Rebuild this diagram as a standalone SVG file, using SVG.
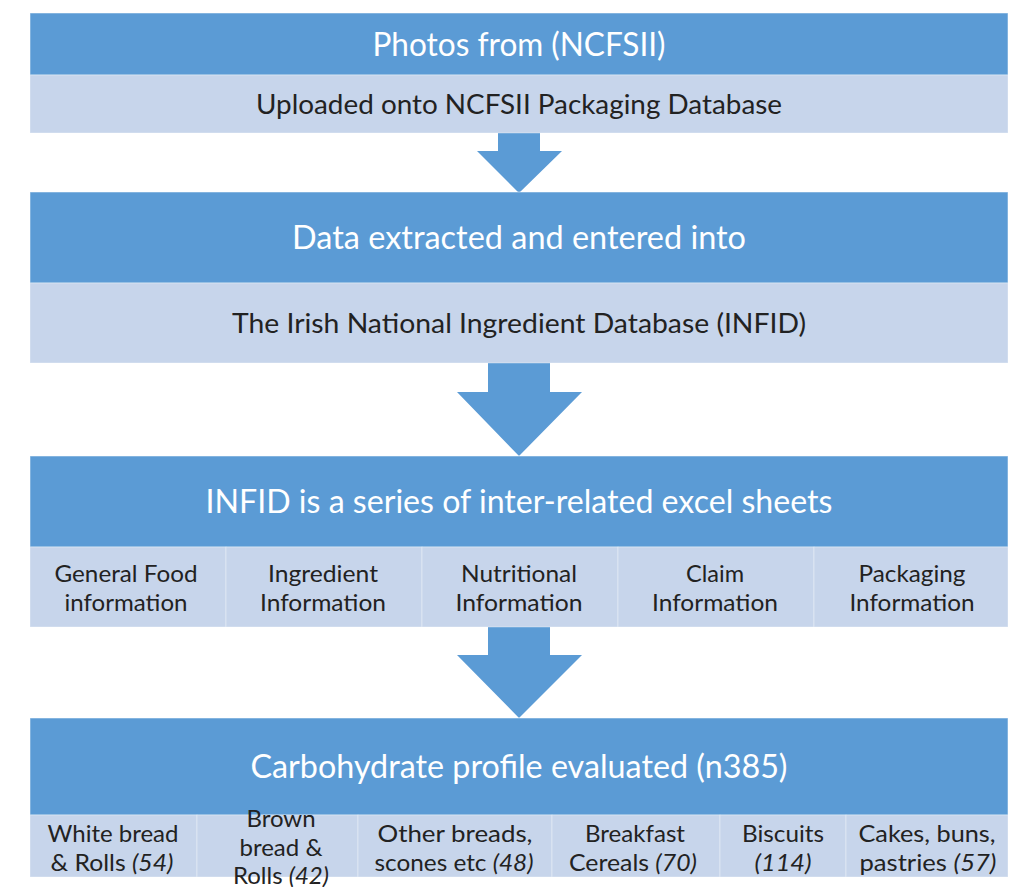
<svg xmlns="http://www.w3.org/2000/svg" width="1024" height="887" viewBox="0 0 1024 887">
<style>
.hd{fill:#5B9BD5;stroke:#FFFFFF;stroke-opacity:.5;stroke-width:1}
.lt{fill:#C7D5EB;stroke:#FFFFFF;stroke-opacity:.35;stroke-width:1}
.arr{fill:#5B9BD5}
.ht{font-family:Lato,"Open Sans",sans-serif;font-size:32px;fill:#FFFFFF;text-anchor:middle}
.st{font-family:Lato,"Open Sans",sans-serif;font-size:27px;fill:#222222;text-anchor:middle}
.ct{font-family:Lato,"Open Sans",sans-serif;font-size:24px;fill:#222222;text-anchor:middle}
.it{font-style:italic}
</style>
<rect width="1024" height="887" fill="#FFFFFF"/>
<g id="connectors">
<polygon class="arr" points="498,132 540,132 540,151 562,151 519,193 477,151 498,151"/>
<polygon class="arr" points="488,363 550,363 550,392 582,392 519,456 457,392 488,392"/>
<polygon class="arr" points="488,627 550,627 550,655 582,655 519,718 457,655 488,655"/>
</g>
<g id="node1">
<rect class="hd" x="30" y="13" width="978" height="62"/>
<text class="ht" x="519" y="56" textLength="293" lengthAdjust="spacingAndGlyphs">Photos from (NCFSII)</text>
<rect class="lt" x="30" y="75" width="978" height="58"/>
<text class="st" x="519" y="114" textLength="526" lengthAdjust="spacingAndGlyphs">Uploaded onto NCFSII Packaging Database</text>
</g>
<g id="node2">
<rect class="hd" x="30" y="192" width="978" height="91"/>
<text class="ht" x="519" y="249" textLength="454" lengthAdjust="spacingAndGlyphs">Data extracted and entered into</text>
<rect class="lt" x="30" y="283" width="978" height="80"/>
<text class="st" x="519" y="333" textLength="574" lengthAdjust="spacingAndGlyphs">The Irish National Ingredient Database (INFID)</text>
</g>
<g id="node3">
<rect class="hd" x="30" y="456" width="978" height="91"/>
<text class="ht" x="519" y="513" textLength="627" lengthAdjust="spacingAndGlyphs">INFID is a series of inter-related excel sheets</text>
<rect class="lt" x="30" y="547" width="196" height="80"/>
<rect class="lt" x="226" y="547" width="196" height="80"/>
<rect class="lt" x="422" y="547" width="196" height="80"/>
<rect class="lt" x="618" y="547" width="196" height="80"/>
<rect class="lt" x="814" y="547" width="194" height="80"/>
<text class="ct" x="126" y="582" textLength="143" lengthAdjust="spacingAndGlyphs">General Food</text>
<text class="ct" x="126" y="611" textLength="123" lengthAdjust="spacingAndGlyphs">information</text>
<text class="ct" x="323" y="582" textLength="110" lengthAdjust="spacingAndGlyphs">Ingredient</text>
<text class="ct" x="323" y="611" textLength="126" lengthAdjust="spacingAndGlyphs">Information</text>
<text class="ct" x="519" y="582" textLength="116" lengthAdjust="spacingAndGlyphs">Nutritional</text>
<text class="ct" x="519" y="611" textLength="127" lengthAdjust="spacingAndGlyphs">Information</text>
<text class="ct" x="715" y="582" textLength="58" lengthAdjust="spacingAndGlyphs">Claim</text>
<text class="ct" x="715" y="611" textLength="126" lengthAdjust="spacingAndGlyphs">Information</text>
<text class="ct" x="912" y="582" textLength="107" lengthAdjust="spacingAndGlyphs">Packaging</text>
<text class="ct" x="912" y="611" textLength="125" lengthAdjust="spacingAndGlyphs">Information</text>
</g>
<g id="node4">
<rect class="hd" x="30" y="718" width="978" height="97"/>
<text class="ht" x="519" y="778" textLength="537" lengthAdjust="spacingAndGlyphs">Carbohydrate profile evaluated (n385)</text>
<rect class="lt" x="30" y="815" width="167" height="62"/>
<rect class="lt" x="197" y="815" width="161" height="62"/>
<rect class="lt" x="358" y="815" width="194" height="62"/>
<rect class="lt" x="552" y="815" width="168" height="62"/>
<rect class="lt" x="720" y="815" width="126" height="62"/>
<rect class="lt" x="846" y="815" width="162" height="62"/>
<text class="ct" x="113" y="842" textLength="131" lengthAdjust="spacingAndGlyphs">White bread</text>
<text class="ct" x="112" y="871" textLength="123" lengthAdjust="spacingAndGlyphs">&amp; Rolls <tspan class="it">(54)</tspan></text>
<text class="ct" x="281" y="827">Brown</text>
<text class="ct" x="281" y="856">bread &amp;</text>
<text class="ct" x="281" y="884" textLength="96" lengthAdjust="spacingAndGlyphs">Rolls <tspan class="it">(42)</tspan></text>
<text class="ct" x="455" y="842" textLength="155" lengthAdjust="spacingAndGlyphs">Other breads,</text>
<text class="ct" x="454" y="871" textLength="159" lengthAdjust="spacingAndGlyphs">scones etc <tspan class="it">(48)</tspan></text>
<text class="ct" x="635" y="842" textLength="100" lengthAdjust="spacingAndGlyphs">Breakfast</text>
<text class="ct" x="633" y="871" textLength="128" lengthAdjust="spacingAndGlyphs">Cereals <tspan class="it">(70)</tspan></text>
<text class="ct" x="783" y="842" textLength="82" lengthAdjust="spacingAndGlyphs">Biscuits</text>
<text class="ct it" x="783" y="871" textLength="57" lengthAdjust="spacingAndGlyphs">(114)</text>
<text class="ct" x="927" y="842" textLength="137" lengthAdjust="spacingAndGlyphs">Cakes, buns,</text>
<text class="ct" x="928" y="871" textLength="137" lengthAdjust="spacingAndGlyphs">pastries <tspan class="it">(57)</tspan></text>
</g>
</svg>
